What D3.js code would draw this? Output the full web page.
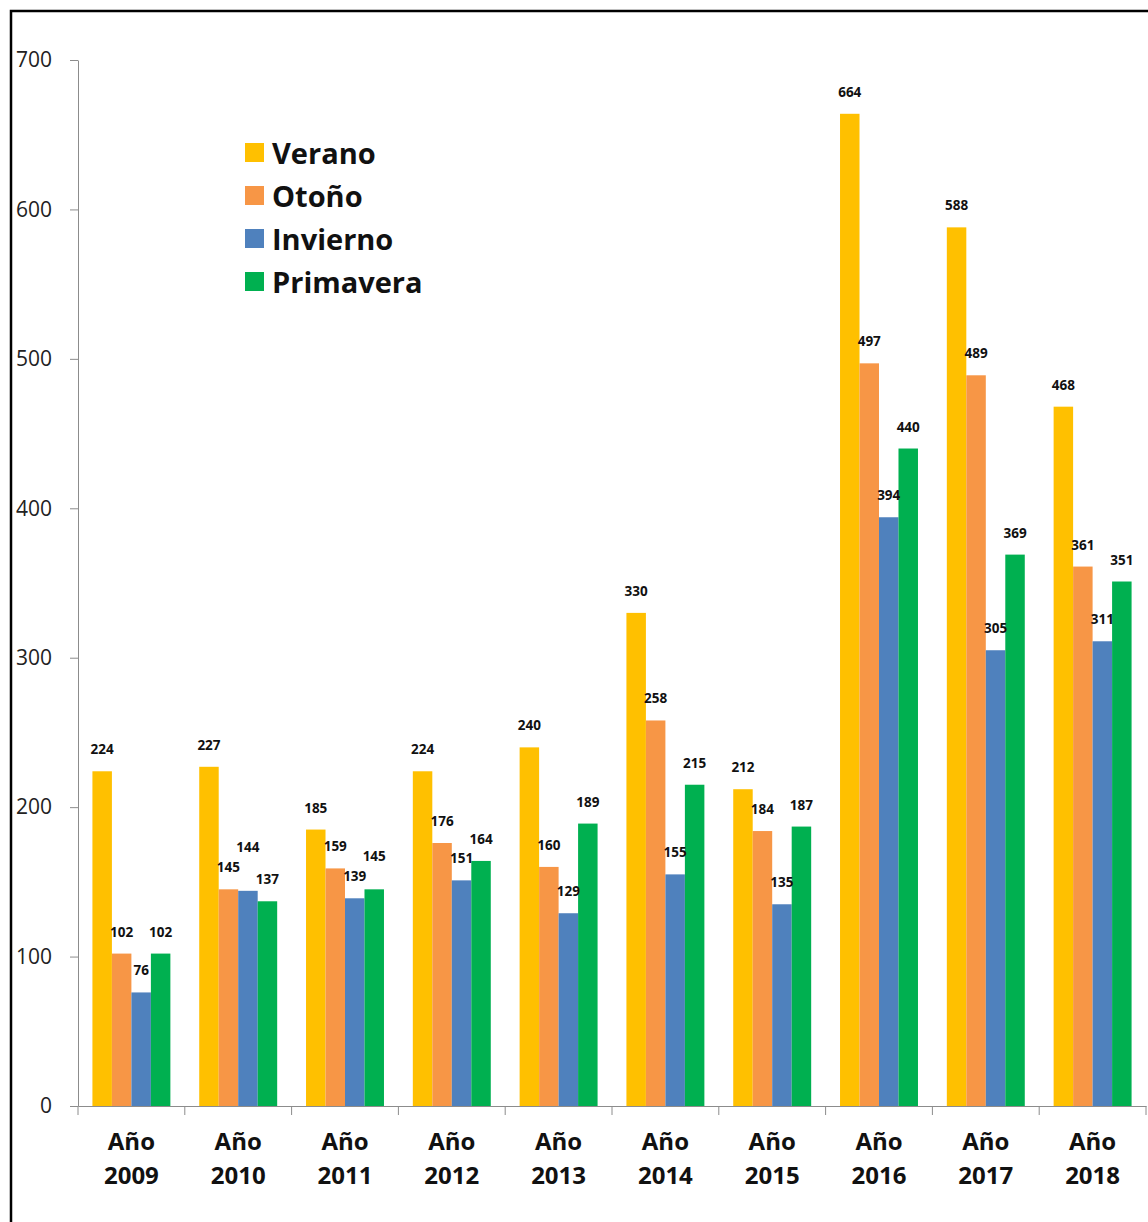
<!DOCTYPE html>
<html>
<head>
<meta charset="utf-8">
<script src="https://cdn.jsdelivr.net/npm/d3@7"></script>
<style>
	body { margin: 0; background: #fff; }
	svg { display: block; font-family: "Open Sans", "Noto Sans", sans-serif; }
</style>
</head>
<body>
<div id="vis"></div>
<script>
var years = ["2009", "2010", "2011", "2012", "2013", "2014", "2015", "2016", "2017", "2018"];
var seasons = ["Verano", "Otoño", "Invierno", "Primavera"];
var colors = ["#FFC000", "#F79646", "#4F81BD", "#00B050"];

var verano    = [224, 227, 185, 224, 240, 330, 212, 664, 588, 468];
var otono     = [102, 145, 159, 176, 160, 258, 184, 497, 489, 361];
var invierno  = [76, 144, 139, 151, 129, 155, 135, 394, 305, 311];
var primavera = [102, 137, 145, 164, 189, 215, 187, 440, 369, 351];

var yTicks = [0, 100, 200, 300, 400, 500, 600, 700];

var series = [verano, otono, invierno, primavera];

var width = 1148, height = 1222;
var margin = { top: 60, left: 78, bottom: 116, right: 2 };

var svg = d3.select('#vis').append('svg')
	.attr('width', width)
	.attr('height', height);

// frame
svg.append('rect')
	.attr('x', 11).attr('y', 11)
	.attr('width', width + 20).attr('height', height + 20)
	.attr('fill', 'none')
	.attr('stroke', '#000')
	.attr('stroke-width', 2.5);

var x0 = d3.scaleBand()
	.domain(years)
	.range([margin.left, width - margin.right]);

var x1 = d3.scaleBand()
	.domain(seasons)
	.range([0, x0.bandwidth()])
	.paddingOuter(0.74)
	.paddingInner(0);

var y = d3.scaleLinear()
	.domain([0, 700])
	.range([height - margin.bottom, margin.top]);

// y axis
var yAxis = svg.append('g')
	.attr('transform', 'translate(' + margin.left + ',0)')
	.call(d3.axisLeft(y).tickValues(yTicks).tickSize(8).tickSizeOuter(0).tickPadding(18));
yAxis.select('.domain').attr('stroke', '#8c8c8c');
yAxis.selectAll('line').attr('stroke', '#8c8c8c');
yAxis.selectAll('text')
	.attr('font-size', 21)
	.attr('fill', '#222')
	.attr('font-family', '"Open Sans", sans-serif');

// x axis
var xAxis = svg.append('g')
	.attr('transform', 'translate(0,' + y(0) + ')')
	.call(d3.axisBottom(x0).tickValues([]).tickSizeOuter(0));
xAxis.select('.domain').attr('stroke', '#8c8c8c');

var boundaries = years.map(function (d) { return x0(d); }).concat([x0(years[years.length - 1]) + x0.bandwidth()]);
xAxis.selectAll('.sep')
	.data(boundaries)
	.enter().append('line')
	.attr('x1', function (d) { return d; })
	.attr('x2', function (d) { return d; })
	.attr('y1', 0).attr('y2', 9)
	.attr('stroke', '#8c8c8c');

var xl = svg.append('g').selectAll('text')
	.data(years)
	.enter().append('text')
	.attr('x', function (d) { return x0(d) + x0.bandwidth() / 2; })
	.attr('y', y(0) + 44)
	.attr('text-anchor', 'middle')
	.attr('font-size', 24)
	.attr('font-weight', 'bold')
	.attr('fill', '#111');
xl.append('tspan').attr('x', function (d) { return x0(d) + x0.bandwidth() / 2; }).text('Año');
xl.append('tspan').attr('x', function (d) { return x0(d) + x0.bandwidth() / 2; }).attr('dy', 34).text(function (d) { return d; });

// bars
var groups = svg.append('g').selectAll('g')
	.data(years)
	.enter().append('g')
	.attr('transform', function (d) { return 'translate(' + x0(d) + ',0)'; });

// label y: sits above the bar, pushed up when it would collide with its left neighbour
var rows = function (d, i) {
	var out = [];
	seasons.forEach(function (s, j) {
		var v = series[j][i];
		var ly = y(v) - 17;
		if (j > 0 && Math.abs(ly - out[j - 1].ly) < 16) ly = out[j - 1].ly - 20;
		out.push({ season: s, value: v, color: colors[j], ly: ly });
	});
	return out;
};

groups.selectAll('rect')
	.data(rows)
	.enter().append('rect')
	.attr('x', function (d) { return x1(d.season); })
	.attr('y', function (d) { return y(d.value); })
	.attr('width', x1.bandwidth())
	.attr('height', function (d) { return y(0) - y(d.value); })
	.attr('fill', function (d) { return d.color; });

groups.selectAll('.lbl')
	.data(rows)
	.enter().append('text')
	.attr('class', 'lbl')
	.attr('x', function (d) { return x1(d.season) + x1.bandwidth() / 2; })
	.attr('y', function (d) { return d.ly; })
	.attr('text-anchor', 'middle')
	.attr('font-size', 13.5)
	.attr('font-weight', 'bold')
	.attr('fill', '#111')
	.text(function (d) { return d.value; });

// legend
var legend = svg.append('g').attr('transform', 'translate(245,153)');
var li = legend.selectAll('g')
	.data(seasons)
	.enter().append('g')
	.attr('transform', function (d, i) { return 'translate(0,' + (i * 43) + ')'; });
li.append('rect')
	.attr('x', 0).attr('y', -10)
	.attr('width', 19).attr('height', 19)
	.attr('fill', function (d, i) { return colors[i]; });
li.append('text')
	.attr('x', 27).attr('y', 11)
	.attr('font-size', 29)
	.attr('font-weight', 'bold')
	.attr('fill', '#111')
	.text(function (d) { return d; });
</script>
</body>
</html>
